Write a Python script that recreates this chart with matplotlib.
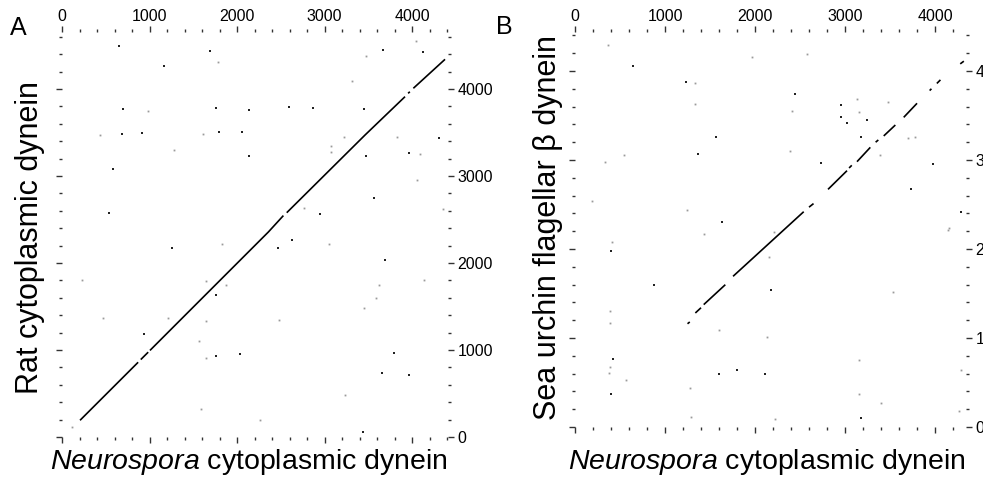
import numpy as np
import matplotlib
matplotlib.use('Agg')
import matplotlib.pyplot as plt
from matplotlib.ticker import MultipleLocator, NullFormatter

plt.rcParams['font.family'] = ['Liberation Sans', 'DejaVu Sans']
plt.rcParams['mathtext.fontset'] = 'custom'
plt.rcParams['mathtext.rm'] = 'Liberation Sans'
plt.rcParams['mathtext.it'] = 'Liberation Sans:italic'

nan = np.nan

# axis lengths (residues)
len_a = (4411, 4655)   # Neurospora vs rat
len_b = (4344, 4438)   # Neurospora vs sea urchin beta

# A: main diagonal of the dot matrix, NaN = break
diag_a_x = [206, 870, nan, 900, 985, nan,
            1005, 1463, 2358, 2530, nan,
            2568, 3463, 3920, nan, 3955, 3975, nan, 4015, 4377]
diag_a_y = [192, 859, nan, 890, 975, nan,
            995, 1456, 2356, 2545, nan,
            2578, 3471, 3912, nan, 3950, 3968, nan, 4008, 4341]

# A: isolated dots
dots_a_x = [655, 1691, 1169, 3672, 4122, 701, 1756, 2137, 2594, 2872, 3455,
            682, 910, 1794, 2053, 4312, 2137, 3470, 3966, 579, 3570, 537,
            2949, 1261, 2465, 2632, 3691, 1756, 937, 1760, 2034, 3794,
            3653, 3966, 3436]
dots_a_y = [4494, 4441, 4268, 4448, 4422, 3770, 3777, 3759, 3789, 3777, 3770,
            3483, 3490, 3510, 3502, 3433, 3230, 3234, 3268, 3077, 2751, 2571,
            2563, 2172, 2172, 2261, 2031, 1628, 1180, 931, 950, 966,
            736, 709, 57]
faint_a_x = [1787, 3474, 4046, 3310, 979, 434, 1615, 3227, 3825, 1284, 3070,
             3070, 4091, 4053, 2766, 4350, 1832, 3055, 225, 1646, 1870, 3627,
             3589, 4141, 472, 1215, 1646, 2480, 3451, 1566, 1646, 3238,
             1589, 2263, 111]
faint_a_y = [4307, 4383, 4555, 4096, 3751, 3471, 3479, 3445, 3452, 3299, 3340,
             3280, 3249, 2954, 2628, 2617, 2222, 2215, 1808, 1789, 1751, 1743,
             1598, 1801, 1371, 1371, 1333, 1349, 1483, 1103, 908, 487,
             318, 199, 115]

# B: diagonal pieces
diag_b_x = [1250, 1275, nan, 1337, 1400, nan, 1430, 1670, nan, 1756, 2541, nan,
            2600, 2650, nan, 2811, 3022, nan,
            3045, 3075, nan, 3133, 3281, nan, 3340, 3370, nan, 3430, 3559, nan,
            3652, 3800, nan, 3940, 3960, nan, 4020, 4060, nan, 4280, 4320]
diag_b_y = [1160, 1180, nan, 1281, 1340, nan, 1375, 1599, nan, 1693, 2419, nan,
            2470, 2510, nan, 2670, 2880, nan,
            2910, 2940, nan, 2981, 3142, nan, 3200, 3225, nan, 3270, 3393, nan,
            3479, 3637, nan, 3780, 3800, nan, 3860, 3900, nan, 4080, 4110]

dots_b_x = [644, 1233, 2441, 2959, 2959, 3022, 3244, 3181, 2737, 3974, 3737,
            1567, 1363, 1633, 4293, 404, 881, 2178, 422, 1596, 1800, 2107,
            400, 3181]
dots_b_y = [4060, 3873, 3742, 3618, 3480, 3412, 3449, 3255, 2963, 2955, 2674,
            3255, 3064, 2300, 2419, 1974, 1599, 1536, 768, 599, 644, 599,
            375, 101]
faint_b_x = [363, 1967, 2578, 1330, 1330, 2411, 3133, 3155, 3474, 3696, 3778,
             3385, 541, 330, 2385, 189, 1244, 4160, 1430, 2215, 4144, 411,
             2159, 3530, 393, 393, 1596, 2133, 385, 374, 567, 3159, 1281,
             3159, 3403, 4293, 4263, 1293, 2219]
faint_b_y = [4292, 4161, 4191, 3860, 3629, 3554, 3682, 3536, 3655, 3250, 3260,
             3056, 3056, 2981, 3101, 2539, 2438, 2240, 2169, 2191, 2217, 2075,
             1910, 1513, 1307, 1169, 1094, 1008, 674, 607, 524, 757, 438,
             371, 270, 644, 183, 112, 93]

major_ticks = [0, 1000, 2000, 3000, 4000]


def dot_panel(ax, lens, dx, dy, dots_x, dots_y, faint_x, faint_y):
    ax.plot(dx, dy, color='black', lw=1.2, solid_capstyle='butt')
    ax.plot(dots_x, dots_y, 's', color='#222222', ms=1.7, mew=0)
    ax.plot(faint_x, faint_y, 's', color='#9a9a9a', ms=1.3, mew=0)
    ax.set_xlim(0, lens[0])
    ax.set_ylim(0, lens[1])
    for s in ax.spines.values():
        s.set_visible(False)
    ax.set_facecolor('white')
    ax.xaxis.set_major_locator(plt.FixedLocator(major_ticks))
    ax.yaxis.set_major_locator(plt.FixedLocator(major_ticks))
    ax.xaxis.set_minor_locator(MultipleLocator(200))
    ax.yaxis.set_minor_locator(MultipleLocator(200))
    ax.tick_params(which='both', top=True, bottom=True, left=True, right=True,
                   labeltop=True, labelbottom=False, labelleft=False, labelright=True,
                   direction='out', color='#333333', width=1.0, labelsize=11.5, pad=1.5)
    ax.tick_params(which='major', length=4)
    ax.tick_params(which='minor', length=2)
    ax.tick_params(axis='y', pad=3)
    ax.yaxis.set_minor_formatter(NullFormatter())
    ax.xaxis.set_minor_formatter(NullFormatter())


W, H = 983, 483
fig = plt.figure(figsize=(W / 100, H / 100), dpi=100)

ax_a = fig.add_axes([62 / W, 1 - 437 / H, (448 - 62) / W, (437 - 32) / H])
dot_panel(ax_a, len_a, diag_a_x, diag_a_y, dots_a_x, dots_a_y, faint_a_x, faint_a_y)

ax_b = fig.add_axes([575 / W, 1 - 427 / H, (966 - 575) / W, (427 - 32) / H])
dot_panel(ax_b, len_b, diag_b_x, diag_b_y, dots_b_x, dots_b_y, faint_b_x, faint_b_y)

fig.text(10 / W, 1 - 28 / H, 'A', fontsize=18, va='center', ha='left')
fig.text(496 / W, 1 - 27 / H, 'B', fontsize=18, va='center', ha='left')

fig.text(30 / W, 1 - 238 / H, 'Rat cytoplasmic dynein', rotation=90,
         fontsize=22, ha='center', va='center')
fig.text(548 / W, 1 - 228 / H, 'Sea urchin flagellar \u03b2 dynein', rotation=90,
         fontsize=22, ha='center', va='center')
fig.text(249 / W, 1 - 462 / H, r'$\mathit{Neurospora}$ cytoplasmic dynein',
         fontsize=20.5, ha='center', va='center')
fig.text(767 / W, 1 - 462 / H, r'$\mathit{Neurospora}$ cytoplasmic dynein',
         fontsize=20.5, ha='center', va='center')

fig.savefig('out.png', dpi=100, facecolor='white')
